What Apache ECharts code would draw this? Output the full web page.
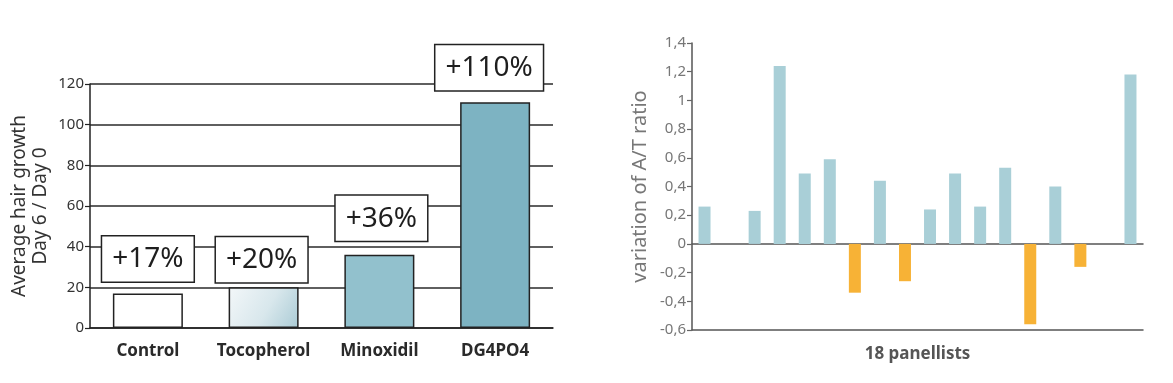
<!DOCTYPE html>
<html>
<head>
<meta charset="utf-8">
<script src="https://cdn.jsdelivr.net/npm/echarts@6/dist/echarts.min.js"></script>
<style>
html,body{margin:0;padding:0;background:#fff;}
#chart{width:1173px;height:383px;}
</style>
</head>
<body>
<div id="chart"></div>
<script>
// ---- Left chart data ----
const growthCategories = ['Control', 'Tocopherol', 'Minoxidil', 'DG4PO4'];
const growthValues = [17, 20, 36, 111];
const growthLabels = ['+17%', '+20%', '+36%', '+110%'];
const growthAxisMin = 0, growthAxisMax = 120, growthAxisStep = 20;

// ---- Right chart data ----
const panellists = ['1','2','3','4','5','6','7','8','9','10','11','12','13','14','15','16','17','18'];
const ratioValues = [0.26, 0, 0.23, 1.24, 0.49, 0.59, -0.34, 0.44, -0.26, 0.24, 0.49, 0.26, 0.53, -0.56, 0.40, -0.16, 0, 1.18];
const ratioAxisMin = -0.6, ratioAxisMax = 1.4, ratioAxisStep = 0.2;

const FONT = '"Noto Sans", "Open Sans", sans-serif';

// styles (kept out of the data arrays)
const barFills = [
  '#ffffff',
  {type:'linear', x:0, y:0, x2:1, y2:1, colorStops:[{offset:0,color:'#f3f7f9'},{offset:0.55,color:'#d8e7ec'},{offset:1,color:'#aacbd5'}]},
  '#92c1cd',
  '#7db3c2'
];
const labelGaps = [12, 5, 14, 12];
const labelShift = [[0,0],[-2,0],[2,0],[-6,0]];

const growthData = growthValues.map((v, i) => ({
  value: v,
  itemStyle: {color: barFills[i]},
  label: {distance: labelGaps[i], offset: labelShift[i]}
}));

const chart = echarts.init(document.getElementById('chart'), null, {renderer:'canvas'});

const option = {
  backgroundColor: '#ffffff',
  animation: false,
  grid: [
    {left: 90, right: 620, top: 84, bottom: 55},
    {left: 692, right: 30, top: 43, bottom: 53}
  ],
  xAxis: [
    {
      gridIndex: 0, type: 'category', data: growthCategories,
      axisLine: {show: true, lineStyle: {color: '#222', width: 1.5}},
      axisTick: {show: false},
      axisLabel: {interval: 0, color: '#2a2a2a', fontFamily: FONT, fontWeight: 'bold', fontSize: 17, margin: 15}
    },
    {
      gridIndex: 1, type: 'category', data: panellists, position: 'bottom',
      axisLine: {show: true, onZero: true, lineStyle: {color: '#555', width: 1.5}},
      axisTick: {show: false},
      axisLabel: {show: false}
    },
    {
      gridIndex: 1, type: 'category', data: panellists, position: 'bottom',
      axisLine: {show: true, onZero: false, lineStyle: {color: '#555', width: 1.5}},
      axisTick: {show: false},
      axisLabel: {show: false},
      name: '18 panellists', nameLocation: 'middle', nameGap: 16,
      nameTextStyle: {color: '#555', fontFamily: FONT, fontWeight: 'bold', fontSize: 17}
    }
  ],
  yAxis: [
    {
      gridIndex: 0, type: 'value', min: growthAxisMin, max: growthAxisMax, interval: growthAxisStep,
      axisLine: {show: true, lineStyle: {color: '#222', width: 1.5}},
      axisTick: {show: true, length: 5, lineStyle: {color: '#222', width: 1.2}},
      splitLine: {show: true, lineStyle: {color: '#2a2a2a', width: 1.5}},
      axisLabel: {color: '#333', fontFamily: FONT, fontSize: 15, margin: 6},
      name: 'Average hair growth\nDay 6 / Day 0', nameLocation: 'middle', nameGap: 39,
      nameTextStyle: {color: '#333', fontFamily: FONT, fontSize: 19, lineHeight: 21}
    },
    {
      gridIndex: 1, type: 'value', min: ratioAxisMin, max: ratioAxisMax, interval: ratioAxisStep,
      axisLine: {show: true, lineStyle: {color: '#555', width: 1.5}},
      axisTick: {show: true, length: 5, lineStyle: {color: '#666', width: 1.2}},
      splitLine: {show: false},
      axisLabel: {
        color: '#777', fontFamily: FONT, fontSize: 15, margin: 6,
        formatter: v => String(Math.round(v * 10) / 10).replace('.', ',')
      },
      name: 'variation of A/T ratio', nameLocation: 'middle', nameGap: 42,
      nameTextStyle: {color: '#777', fontFamily: FONT, fontSize: 20}
    }
  ],
  series: [
    {
      type: 'bar', xAxisIndex: 0, yAxisIndex: 0, data: growthData,
      barWidth: 70,
      itemStyle: {borderColor: '#222', borderWidth: 1.5},
      label: {
        show: true, position: 'top',
        formatter: p => growthLabels[p.dataIndex],
        color: '#1e1e1e', fontFamily: FONT, fontSize: 28, lineHeight: 30,
        backgroundColor: '#ffffff', borderColor: '#222', borderWidth: 1.5,
        padding: [8, 10, 7, 10]
      },
      z: 3
    },
    {
      type: 'bar', xAxisIndex: 1, yAxisIndex: 1, data: ratioValues,
      barWidth: 12,
      itemStyle: {color: p => p.value < 0 ? '#f7b236' : '#a9cfd7'}
    }
  ]
};
chart.setOption(option);
</script>
</body>
</html>
